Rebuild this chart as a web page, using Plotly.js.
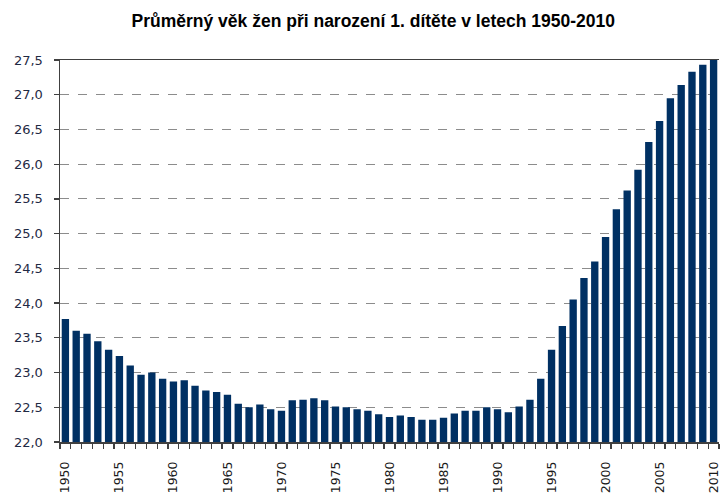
<!DOCTYPE html>
<html>
<head>
<meta charset="utf-8">
<script src="https://cdn.plot.ly/plotly-3.0.1.min.js"></script>
<style>html,body{margin:0;padding:0;background:#fff;}#chart{width:722px;height:494px;}</style>
</head>
<body>
<div id="chart"></div>
<script>
const years = [1950,1951,1952,1953,1954,1955,1956,1957,1958,1959,
  1960,1961,1962,1963,1964,1965,1966,1967,1968,1969,
  1970,1971,1972,1973,1974,1975,1976,1977,1978,1979,
  1980,1981,1982,1983,1984,1985,1986,1987,1988,1989,
  1990,1991,1992,1993,1994,1995,1996,1997,1998,1999,
  2000,2001,2002,2003,2004,2005,2006,2007,2008,2009,2010];
const meanAge = [23.77,23.60,23.56,23.45,23.33,23.24,23.10,22.97,23.00,22.91,
  22.87,22.89,22.81,22.74,22.72,22.68,22.55,22.50,22.54,22.47,
  22.45,22.60,22.61,22.63,22.60,22.51,22.50,22.47,22.45,22.40,
  22.36,22.38,22.36,22.32,22.32,22.35,22.41,22.45,22.45,22.50,
  22.47,22.43,22.51,22.61,22.91,23.33,23.67,24.05,24.36,24.60,
  24.95,25.35,25.62,25.92,26.32,26.62,26.95,27.14,27.33,27.43,27.60];
const labelYears = years.filter(y => y % 5 === 0);
const titleText = 'Průměrný věk žen při narození 1. dítěte v letech 1950-2010';

const trace = {
  type: 'bar',
  x: years,
  y: meanAge,
  base: 0,
  marker: {color: '#003063', line: {width: 0}},
  width: 0.68,
  hoverinfo: 'x+y'
};

const layout = {
  width: 722, height: 494,
  margin: {l: 60, r: 3, t: 60, b: 52},
  paper_bgcolor: '#ffffff', plot_bgcolor: '#ffffff',
  separators: ', ',
  showlegend: false,
  title: {
    text: '<b>' + titleText + '</b>',
    x: 0.517, xanchor: 'center', y: 0.957, yanchor: 'middle',
    font: {family: 'Liberation Sans, Arial, sans-serif', size: 17.5, color: '#000000'}
  },
  xaxis: {
    type: 'linear',
    range: [1949.5, 2010.5],
    tickmode: 'array',
    tickvals: labelYears,
    ticktext: labelYears.map(String),
    tickangle: -90,
    ticks: '',
    ticklabelstandoff: 13,
    showgrid: false,
    zeroline: false,
    showline: true, linecolor: '#404040', linewidth: 1.5, mirror: true,
    tickfont: {family: 'DejaVu Sans, Verdana, sans-serif', size: 12.5, color: '#1a1a1a'},
    minor: {tickmode: 'linear', tick0: 1949.5, dtick: 1, ticks: 'outside', ticklen: 5, tickcolor: '#404040', tickwidth: 1.3, showgrid: false}
  },
  yaxis: {
    range: [22, 27.5],
    tickmode: 'linear', tick0: 22, dtick: 0.5,
    tickformat: '.1f',
    ticks: 'outside', ticklen: 5, tickcolor: '#404040', tickwidth: 1.3,
    ticklabelstandoff: 8,
    showgrid: true, gridcolor: '#8c8c8c', griddash: 'dash', gridwidth: 1,
    zeroline: false,
    showline: true, linecolor: '#404040', linewidth: 1.5,
    tickfont: {family: 'DejaVu Sans, Verdana, sans-serif', size: 13, color: '#1f2a44'}
  },
  bargap: 0.32
};

Plotly.newPlot('chart', [trace], layout, {displayModeBar: false, staticPlot: true});
</script>
</body>
</html>
